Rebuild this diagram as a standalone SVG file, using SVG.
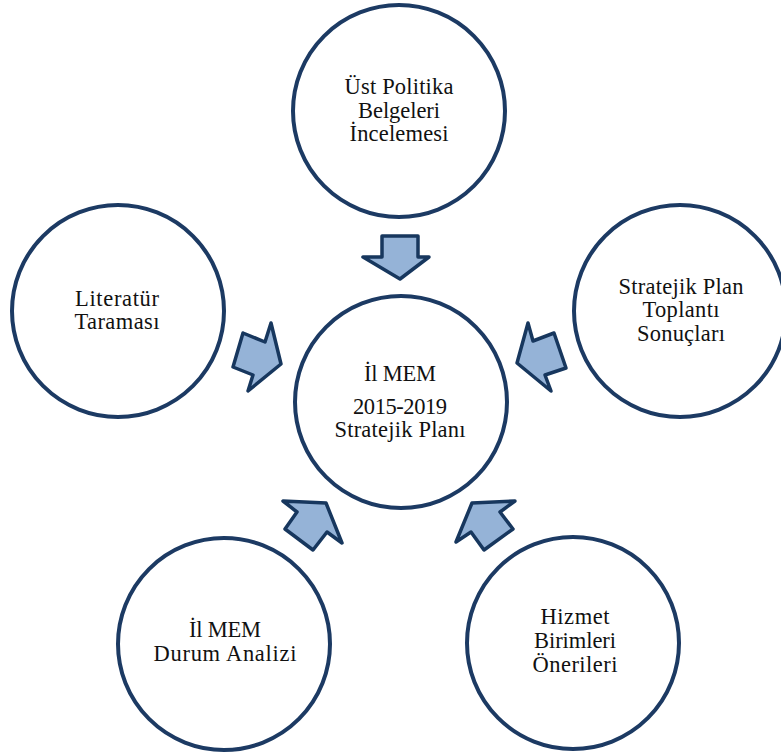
<svg xmlns="http://www.w3.org/2000/svg" width="781" height="753" viewBox="0 0 781 753">
<style>
.node circle{fill:#fff;stroke:#1c3a63;stroke-width:4}
.node text{font-family:"Liberation Serif","Times New Roman",serif;font-size:22.5px;fill:#111;text-anchor:middle}
.arrow{fill:#95b3d7;stroke:#17375e;stroke-width:3.5;stroke-linejoin:round}
</style>
<rect width="781" height="753" fill="#fff"/>
<g id="node-top" class="node">
<circle cx="399" cy="111" r="106"/>
<text x="399" y="94" textLength="109" lengthAdjust="spacing">Üst Politika</text>
<text x="399" y="117.5" textLength="82" lengthAdjust="spacing">Belgeleri</text>
<text x="399" y="141" textLength="99" lengthAdjust="spacing">İncelemesi</text>
</g>
<g id="node-left" class="node">
<circle cx="118" cy="311" r="106"/>
<text x="117" y="306" textLength="84" lengthAdjust="spacing">Literatür</text>
<text x="117" y="329" textLength="85" lengthAdjust="spacing">Taraması</text>
</g>
<g id="node-right" class="node">
<circle cx="680" cy="311" r="106"/>
<text x="681" y="294" textLength="125" lengthAdjust="spacing">Stratejik Plan</text>
<text x="681" y="317" textLength="77" lengthAdjust="spacing">Toplantı</text>
<text x="681" y="341" textLength="88" lengthAdjust="spacing">Sonuçları</text>
</g>
<g id="node-center" class="node">
<circle cx="401" cy="402" r="106"/>
<text x="400" y="381" textLength="72" lengthAdjust="spacing">İl MEM</text>
<text x="400" y="414" textLength="94" lengthAdjust="spacing">2015-2019</text>
<text x="400" y="437" textLength="131" lengthAdjust="spacing">Stratejik Planı</text>
</g>
<g id="node-bottom-left" class="node">
<circle cx="224" cy="644" r="106"/>
<text x="225" y="637" textLength="72" lengthAdjust="spacing">İl MEM</text>
<text x="225" y="661" textLength="143" lengthAdjust="spacing">Durum Analizi</text>
</g>
<g id="node-bottom-right" class="node">
<circle cx="573" cy="643" r="106"/>
<text x="575" y="624" textLength="69" lengthAdjust="spacing">Hizmet</text>
<text x="575" y="648" textLength="82" lengthAdjust="spacing">Birimleri</text>
<text x="575" y="672" textLength="85" lengthAdjust="spacing">Önerileri</text>
</g>
<g id="connectors">
<polygon class="arrow" points="382,236 418,236 418,257 429,257 400,279 363,257 382,257"/>
<polygon class="arrow" points="233,367 243,333 265,342 271,323 281,364 248,391 253,375"/>
<polygon class="arrow" points="528,323 533,341 554,333 566,368 545,375 551,391 517,363"/>
<polygon class="arrow" points="326,503 342,543 327,532 313,550 285,529 297,512 283,501"/>
<polygon class="arrow" points="472,503 515,501 500,512 513,529 484,550 471,532 456,542"/>
</g>
</svg>
